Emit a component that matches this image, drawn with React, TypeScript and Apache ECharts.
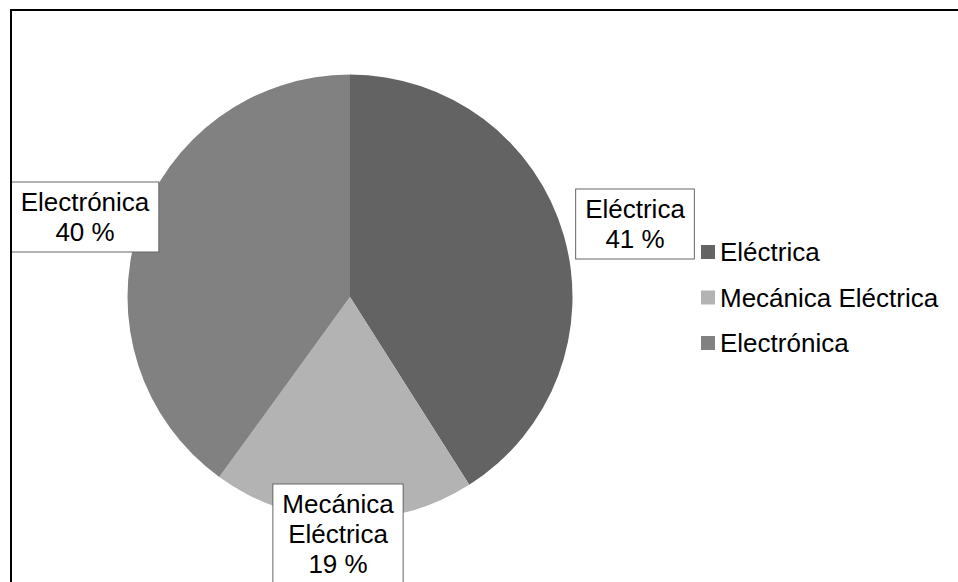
import React, { useEffect, useRef } from "react";
import * as echarts from "echarts";

const categories = ["Eléctrica", "Mecánica Eléctrica", "Electrónica"];
const values = [41, 19, 40];
const colors = ["#636363", "#b3b3b3", "#818181"];
// label box centers (layout)
const labelCenters = [
  [635, 224],
  [338, 534],
  [85, 217],
];

export default function App() {
  const ref = useRef<HTMLDivElement>(null);
  useEffect(() => {
    if (!ref.current) return;
    const chart = echarts.init(ref.current, null, { renderer: "svg" });
    const font = "'Liberation Sans', Arial, sans-serif";
    chart.setOption({
      animation: false,
      backgroundColor: "#ffffff",
      color: colors,
      graphic: [
        {
          type: "rect",
          shape: { x: 11, y: 10, width: 1000, height: 1000 },
          style: { fill: "none", stroke: "#000", lineWidth: 2 },
          z: 100,
        },
      ],
      legend: {
        orient: "vertical",
        left: 701,
        top: 237,
        padding: 0,
        itemWidth: 14,
        itemHeight: 14,
        itemGap: 15.5,
        icon: "rect",
        data: categories,
        textStyle: {
          fontFamily: font,
          fontSize: 26,
          lineHeight: 30,
          color: "#000",
        },
      },
      series: [
        {
          type: "pie",
          center: [350, 297],
          radius: 222.5,
          startAngle: 90,
          clockwise: true,
          data: categories.map((c, i) => ({ name: c, value: values[i] })),
          itemStyle: { borderWidth: 0 },
          label: {
            show: true,
            position: "inside",
            formatter: (p: any) =>
              p.name.replace(" ", "\n") + "\n" + p.value + " %",
            fontFamily: font,
            fontSize: 26,
            lineHeight: 30,
            color: "#000",
            align: "center",
            backgroundColor: "#fff",
            borderColor: "#666",
            borderWidth: 1,
            padding: [6, 9, 3, 9],
          },
          labelLine: { show: false },
          labelLayout: (params: any) => {
            const c = labelCenters[params.dataIndex];
            return {
              x: c[0],
              y: c[1],
              align: "center",
              verticalAlign: "middle",
            };
          },
          emphasis: { disabled: true },
        },
      ],
    });
    return () => chart.dispose();
  }, []);
  return (
    <div
      ref={ref}
      style={{ position: "fixed", left: 0, top: 0, width: 958, height: 582 }}
    />
  );
}
